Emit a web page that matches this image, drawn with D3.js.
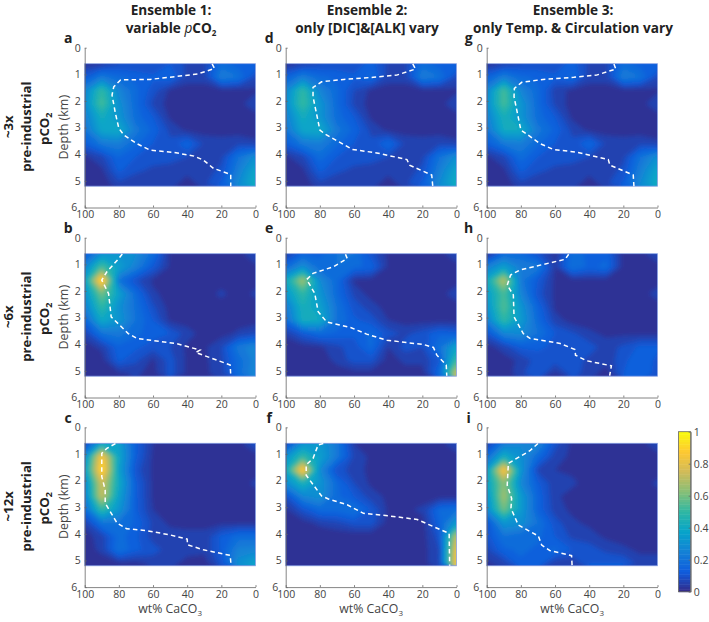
<!DOCTYPE html>
<html>
<head>
<meta charset="utf-8">
<script src="https://cdnjs.cloudflare.com/ajax/libs/d3/7.8.5/d3.min.js"></script>
<style>
  body { margin: 0; background: #fff; }
  svg { display: block; }
  text { font-family: "Open Sans", sans-serif; }
  .tick text { fill: #444; font-size: 10.5px; }
  .domain, .tick line { stroke: #666; stroke-width: 0.8; }
</style>
</head>
<body>
<svg id="chart" width="709" height="622"></svg>
<script>
// wt% columns and depth rows of the grids, values are in hundredths
const wtCols = [100, 90, 80, 70, 60, 50, 40, 30, 20, 10, 0]
const depthRows = [0.6, 1.1, 1.6, 2.1, 2.6, 3.1, 3.6, 4.1, 4.6, 5.1]
const wtTicks = [100, 80, 60, 40, 20, 0]
const depthTicks = [0, 1, 2, 3, 4, 5, 6]
const barTicks = [0, 0.2, 0.4, 0.6, 0.8, 1]

const gridA = [
  [3, 4, 8, 8, 8, 12, 7, 7, 18, 14, 16],
  [12, 22, 17, 15, 13, 16, 6, 6, 24, 20, 8],
  [26, 50, 26, 17, 10, 3, 2, 2, 2, 2, 3],
  [28, 54, 30, 17, 7, 2, 2, 2, 2, 2, 8],
  [24, 42, 32, 18, 12, 3, 2, 2, 2, 2, 2],
  [20, 38, 40, 22, 15, 7, 3, 2, 2, 2, 2],
  [13, 22, 24, 17, 12, 9, 16, 7, 6, 7, 5],
  [3, 7, 16, 12, 10, 9, 8, 7, 7, 20, 30],
  [2, 3, 13, 9, 7, 7, 6, 6, 9, 24, 38],
  [1, 1, 7, 5, 6, 7, 1, 7, 13, 28, 42]
]
const gridB = [
  [12, 30, 32, 28, 18, 3, 2, 2, 2, 2, 8],
  [26, 54, 36, 24, 12, 3, 2, 2, 2, 2, 3],
  [36, 96, 20, 9, 3, 2, 2, 2, 2, 2, 2],
  [30, 60, 36, 17, 5, 2, 2, 2, 5, 2, 5],
  [24, 50, 30, 19, 9, 2, 2, 2, 2, 2, 2],
  [15, 40, 32, 20, 12, 3, 2, 2, 2, 2, 2],
  [6, 20, 22, 17, 14, 12, 6, 2, 2, 5, 8],
  [2, 5, 15, 13, 10, 8, 3, 3, 8, 22, 27],
  [1, 2, 13, 9, 3, 10, 3, 3, 7, 18, 26],
  [1, 1, 3, 5, 2, 10, 3, 3, 6, 18, 28]
]
const gridC = [
  [7, 38, 36, 13, 4, 2, 2, 2, 2, 2, 10],
  [28, 88, 38, 13, 3, 2, 2, 2, 2, 2, 2],
  [34, 94, 36, 10, 3, 2, 2, 2, 2, 2, 2],
  [26, 76, 40, 13, 3, 2, 2, 2, 2, 2, 5],
  [24, 74, 36, 13, 3, 2, 2, 2, 2, 2, 2],
  [17, 50, 32, 13, 4, 2, 2, 2, 2, 2, 2],
  [5, 20, 20, 15, 7, 3, 3, 3, 3, 3, 3],
  [2, 6, 18, 13, 6, 6, 5, 5, 13, 18, 18],
  [2, 5, 20, 13, 10, 6, 5, 5, 13, 25, 26],
  [1, 2, 3, 3, 5, 5, 3, 2, 10, 30, 38]
]
const gridD = [
  [3, 5, 8, 9, 9, 14, 7, 7, 18, 14, 16],
  [14, 24, 17, 15, 13, 17, 6, 6, 24, 20, 8],
  [26, 50, 26, 17, 8, 3, 2, 2, 2, 2, 3],
  [28, 52, 32, 17, 7, 2, 2, 2, 2, 2, 8],
  [24, 42, 32, 18, 12, 3, 2, 2, 2, 2, 2],
  [20, 38, 40, 22, 15, 7, 3, 2, 2, 2, 2],
  [13, 22, 24, 17, 12, 9, 17, 7, 6, 7, 5],
  [3, 7, 18, 12, 10, 9, 8, 7, 7, 20, 30],
  [2, 3, 13, 9, 7, 7, 6, 6, 9, 24, 38],
  [1, 1, 7, 5, 6, 7, 1, 7, 13, 28, 42]
]
const gridE = [
  [5, 15, 15, 20, 20, 10, 3, 2, 2, 2, 8],
  [17, 30, 18, 20, 17, 15, 3, 2, 2, 2, 2],
  [40, 68, 28, 17, 3, 2, 2, 2, 2, 2, 2],
  [32, 50, 32, 17, 7, 2, 2, 2, 2, 2, 7],
  [22, 44, 36, 20, 10, 6, 2, 2, 2, 2, 2],
  [17, 42, 40, 20, 13, 10, 4, 2, 2, 2, 2],
  [5, 12, 17, 15, 13, 17, 10, 7, 10, 15, 13],
  [1, 2, 3, 7, 10, 17, 4, 10, 8, 20, 38],
  [1, 1, 2, 5, 10, 10, 2, 5, 5, 12, 52],
  [1, 1, 1, 2, 2, 2, 1, 2, 2, 17, 76]
]
const gridF = [
  [7, 30, 33, 22, 4, 2, 2, 2, 2, 2, 8],
  [30, 50, 36, 22, 7, 3, 2, 2, 2, 2, 2],
  [40, 92, 28, 9, 7, 2, 2, 2, 2, 2, 2],
  [28, 44, 32, 17, 8, 3, 2, 2, 2, 2, 2],
  [9, 26, 30, 17, 12, 6, 3, 2, 2, 2, 2],
  [3, 10, 17, 17, 20, 12, 3, 3, 5, 17, 20],
  [1, 2, 5, 7, 10, 10, 2, 2, 2, 15, 34],
  [1, 1, 1, 1, 1, 1, 1, 1, 2, 10, 74],
  [1, 1, 1, 1, 1, 1, 1, 1, 2, 8, 84],
  [1, 1, 1, 1, 1, 1, 1, 1, 2, 8, 88]
]
const gridG = [
  [3, 5, 8, 9, 9, 14, 7, 7, 18, 14, 16],
  [14, 24, 17, 15, 13, 17, 6, 6, 24, 20, 8],
  [26, 54, 26, 17, 6, 3, 2, 2, 2, 2, 3],
  [28, 54, 32, 17, 7, 2, 2, 2, 2, 2, 8],
  [24, 44, 32, 18, 12, 3, 2, 2, 2, 2, 2],
  [20, 40, 40, 22, 15, 7, 3, 2, 2, 2, 2],
  [13, 22, 24, 17, 12, 9, 17, 7, 6, 7, 5],
  [3, 7, 18, 12, 10, 9, 8, 7, 7, 20, 30],
  [2, 3, 13, 9, 7, 7, 6, 6, 9, 24, 38],
  [1, 1, 7, 5, 6, 7, 1, 7, 13, 28, 42]
]
const gridH = [
  [2, 17, 17, 10, 3, 18, 15, 15, 2, 2, 8],
  [24, 36, 24, 22, 4, 20, 15, 17, 2, 2, 2],
  [40, 72, 22, 12, 3, 2, 2, 2, 2, 2, 2],
  [34, 54, 26, 10, 3, 2, 2, 2, 2, 2, 6],
  [30, 56, 32, 15, 3, 2, 2, 2, 2, 2, 2],
  [24, 50, 34, 17, 6, 2, 2, 2, 2, 2, 2],
  [10, 26, 28, 20, 12, 9, 5, 3, 3, 3, 3],
  [2, 6, 13, 13, 11, 12, 10, 6, 9, 13, 13],
  [1, 2, 5, 10, 10, 10, 7, 5, 11, 15, 11],
  [1, 1, 7, 12, 3, 10, 6, 2, 12, 14, 11]
]
const gridI = [
  [5, 22, 27, 27, 10, 3, 2, 2, 2, 2, 8],
  [17, 42, 30, 17, 6, 3, 2, 2, 2, 2, 2],
  [34, 90, 32, 7, 4, 3, 2, 2, 2, 2, 2],
  [36, 64, 27, 13, 5, 5, 2, 2, 2, 2, 5],
  [30, 68, 34, 15, 5, 2, 2, 2, 2, 2, 2],
  [27, 60, 34, 15, 6, 3, 2, 2, 2, 2, 2],
  [10, 32, 30, 20, 10, 5, 3, 2, 2, 2, 2],
  [10, 20, 17, 17, 12, 7, 6, 3, 2, 2, 2],
  [7, 15, 17, 15, 17, 12, 10, 7, 5, 3, 3],
  [3, 6, 15, 15, 5, 4, 12, 12, 12, 6, 6]
]

// dashed lines, [wt%, depth km]
const lineA = [[25.4, .61], [24, .78], [34, .99], [61.7, 1.19], [79, 1.21], [83, 1.47], [84, 1.78], [82, 2.47], [80, 3.03], [77, 3.28], [69.5, 3.6], [61.7, 3.85], [48, 3.93], [36, 4.07], [30.5, 4.22], [24.6, 4.53], [14.5, 4.76], [14.5, 5.2]]
const lineB = [[78, .61], [80, .78], [87, 1.28], [90, 1.59], [86, 2.1], [84.5, 2.97], [74.5, 3.6], [69.5, 3.78], [58, 3.88], [46, 3.98], [32.5, 4.22], [35, 4.31], [14.8, 4.78], [14.5, 5.18]]
const lineC = [[82, .61], [87, .79], [90, .98], [90, 1.85], [88, 2.35], [88, 2.85], [81, 3.6], [75.4, 3.81], [63.7, 3.88], [50, 4.04], [40, 4.2], [39.8, 4.41], [30.5, 4.6], [14.8, 4.81], [14.3, 5.2]]
const lineD = [[25.6, .61], [24, .8], [35, 1.03], [48.6, 1.11], [66, 1.19], [79, 1.28], [84, 1.49], [84, 1.84], [80, 3.09], [77, 3.24], [69, 3.53], [61, 3.82], [46.7, 3.95], [29, 4.2], [27.5, 4.41], [14.5, 4.78], [13.9, 5.2]]
const lineE = [[65, .62], [64, .78], [72, 1.09], [84, 1.34], [87.7, 1.57], [83, 2.09], [81, 2.78], [76, 3.16], [62, 3.37], [52.6, 3.62], [40.8, 3.85], [19.3, 4.01], [13.5, 4.12], [11.5, 4.41], [6, 4.78], [5.7, 5.18]]
const lineF = [[78, .61], [81, .66], [84, 1.17], [88, 1.41], [88, 1.8], [79, 2.58], [75, 2.69], [64, 2.91], [54.5, 3.23], [39, 3.33], [23, 3.46], [13.5, 3.73], [4.3, 3.98], [4, 5.2]]
const lineG = [[25.5, .61], [24.4, .8], [35.7, 1.03], [49, 1.11], [67, 1.19], [79.5, 1.3], [83.8, 1.53], [84, 1.84], [80, 3.09], [76.6, 3.24], [68.8, 3.6], [61, 3.82], [47.4, 3.92], [28.8, 4.2], [27.9, 4.41], [14.2, 4.78], [13.8, 5.2]]
const lineH = [[52, .62], [54, .81], [66.7, 1], [80.5, 1.21], [86, 1.4], [88, 1.78], [84.4, 2.15], [84, 2.97], [78.6, 3.6], [74.7, 3.78], [57, 3.97], [48.3, 4.2], [48, 4.41], [41.5, 4.62], [27, 4.81], [28, 5.18]]
const lineI = [[70, .61], [74.7, .88], [87.3, 1.35], [88, 2.17], [85.4, 2.67], [85.8, 3.04], [81.5, 3.67], [69.8, 4.08], [67.8, 4.42], [63, 4.63], [50.3, 4.82], [50, 5.2]]

const letters = ['a', 'b', 'c', 'd', 'e', 'f', 'g', 'h', 'i']
const grids = [gridA, gridB, gridC, gridD, gridE, gridF, gridG, gridH, gridI]
const lines = [lineA, lineB, lineC, lineD, lineE, lineF, lineG, lineH, lineI]
const rowLabels = ['~3x', '~6x', '~12x']

// colours of the colourbar
const parulaStops = ['#352a87', '#0f5cdd', '#1481d6', '#06a4ca', '#2eb7a4', '#87bf77', '#d1bb59', '#fec832', '#f9fb0e']
const parula = d3.scaleLinear().domain(d3.range(9).map(d => d / 8)).range(parulaStops).clamp(true)

const colX = [84.7, 285.7, 486.7]   // left edge of plot, per column
const rowY = [47.7, 237.7, 427.3]   // depth 0, per row
const letterDx = [16.5, 16.5, 18]   // the g sits clear of the title above it
const plotW = 170.8, plotH = 159.8

const svg = d3.select('#chart')
const defs = svg.append('defs')
defs.append('filter').attr('id', 'soft')
  .attr('x', '-5%').attr('y', '-5%').attr('width', '110%').attr('height', '110%')
  .append('feGaussianBlur').attr('stdDeviation', 2)

const levels = d3.range(0, 1, 0.04)

function drawPanel(c, r) {
  const k = c * 3 + r
  const x = d3.scaleLinear().domain([100, 0]).range([colX[c], colX[c] + plotW])
  const y = d3.scaleLinear().domain([0, 6]).range([rowY[r], rowY[r] + plotH])
  const g = svg.append('g')

  // grid index to data units
  const nx = wtCols.length, ny = depthRows.length
  const gx = d3.scaleLinear().domain([0.5, nx - 0.5]).range([wtCols[0], wtCols[nx - 1]])
  const gy = d3.scaleLinear().domain([0.5, ny - 0.5]).range([depthRows[0], depthRows[ny - 1]])
  const path = d3.geoPath(d3.geoTransform({
    point: function(px, py) { this.stream.point(x(gx(px)), y(gy(py))) }
  }))

  const top = y(0.6), bottom = y(5.2)
  defs.append('clipPath').attr('id', 'clip-' + k).append('rect')
    .attr('x', x(100)).attr('y', top).attr('width', plotW).attr('height', bottom - top)

  const values = grids[k].flat().map(v => v / 100)
  const contours = d3.contours().size([nx, ny]).thresholds(levels)(values)

  const heat = g.append('g').attr('clip-path', 'url(#clip-' + k + ')')
  heat.append('rect').attr('x', x(100)).attr('y', top).attr('width', plotW).attr('height', bottom - top)
    .attr('fill', parula(0))
  heat.append('g').attr('filter', 'url(#soft)')
    .selectAll('path').data(contours).enter().append('path')
    .attr('d', path)
    .attr('fill', d => parula(d.value + 0.02))

  // pale edge around the image
  g.append('rect').attr('x', x(100)).attr('y', top).attr('width', plotW).attr('height', bottom - top)
    .attr('fill', 'none').attr('stroke', '#8fa8e8').attr('stroke-width', 0.8)

  g.append('path').datum(lines[k])
    .attr('fill', 'none').attr('stroke', '#fff').attr('stroke-width', 1.5)
    .attr('stroke-dasharray', '4.5,3.2')
    .attr('d', d3.line().x(d => x(d[0])).y(d => y(d[1])))

  const left = g.append('g').attr('transform', 'translate(' + x(100) + ',0)')
    .call(d3.axisLeft(y).tickValues(depthTicks).tickFormat(d3.format('d')).tickSize(-2).tickSizeOuter(0).tickPadding(4))
  // keep the 6 clear of the 100 below it
  left.selectAll('.tick text').filter(d => d === 6).attr('dx', -3.5)
  g.append('g').attr('transform', 'translate(0,' + y(6) + ')')
    .call(d3.axisBottom(x).tickValues(wtTicks).tickSize(-2).tickSizeOuter(0).tickPadding(3))

  g.append('text').attr('x', colX[c] - letterDx[c]).attr('y', rowY[r] - 4.5)
    .attr('text-anchor', 'middle').attr('font-size', 14).attr('font-weight', 700).attr('fill', '#222')
    .text(letters[k])

  if (c === 0) {
    g.append('text')
      .attr('transform', 'translate(68,' + (rowY[r] + 79.5) + ') rotate(-90)')
      .attr('text-anchor', 'middle').attr('font-size', 12.5).attr('fill', '#444')
      .text('Depth (km)')
  }
  if (r === 2) {
    const t = g.append('text').attr('x', colX[c] + plotW / 2).attr('y', 613)
      .attr('text-anchor', 'middle').attr('font-size', 12.3).attr('fill', '#444')
    t.append('tspan').text('wt% CaCO')
    t.append('tspan').attr('dy', 3).attr('font-size', 8).text('3')
  }
}

for (let c = 0; c < 3; c++) {
  for (let r = 0; r < 3; r++) drawPanel(c, r)
}

// column titles
function title(cx, y1, y2, first, second) {
  const g = svg.append('g').attr('text-anchor', 'middle').attr('font-size', 13.6)
    .attr('font-weight', 700).attr('fill', '#222')
  g.append('text').attr('x', cx).attr('y', y1).text(first)
  const t = g.append('text').attr('x', cx).attr('y', y2)
  second(t)
}
title(171, 14.6, 33.2, 'Ensemble 1:', t => {
  t.append('tspan').text('variable ')
  t.append('tspan').attr('font-style', 'italic').attr('font-weight', 400).text('p')
  t.append('tspan').text('CO')
  t.append('tspan').attr('dy', 3).attr('font-size', 8).text('2')
})
title(367, 14.6, 33.2, 'Ensemble 2:', t => t.text('only [DIC]&[ALK] vary'))
title(573, 14.6, 33.2, 'Ensemble 3:', t => t.text('only Temp. & Circulation vary'))

// row titles
rowLabels.forEach((label, r) => {
  const cy = rowY[r] + 79
  const g = svg.append('g').attr('text-anchor', 'middle').attr('font-size', 13.2)
    .attr('font-weight', 700).attr('fill', '#222')
  g.append('text').attr('transform', 'translate(13,' + cy + ') rotate(-90)').text(label)
  g.append('text').attr('transform', 'translate(31,' + cy + ') rotate(-90)').text('pre-industrial')
  const t = g.append('text').attr('transform', 'translate(49,' + (cy + 2) + ') rotate(-90)')
  t.append('tspan').text('pCO')
  t.append('tspan').attr('dy', 3).attr('font-size', 9).text('2')
})

// colourbar
const barX = 678.5, barW = 12.2
const barY = d3.scaleLinear().domain([0, 1]).range([591.7, 431.7])
const steps = d3.range(0, 1, 1 / 64)
svg.append('g').selectAll('rect').data(steps).enter().append('rect')
  .attr('x', barX).attr('width', barW)
  .attr('y', d => barY(d + 1 / 64))
  .attr('height', barY(0) - barY(1 / 64) + 0.5)
  .attr('fill', d => parula(d + 1 / 128))
svg.append('rect').attr('x', barX).attr('y', barY(1)).attr('width', barW).attr('height', barY(0) - barY(1))
  .attr('fill', 'none').attr('stroke', '#666').attr('stroke-width', 0.8)
svg.append('g').attr('transform', 'translate(' + (barX + barW) + ',0)')
  .call(d3.axisRight(barY).tickValues(barTicks).tickFormat(d3.format('~g')).tickSize(-2).tickSizeOuter(0).tickPadding(3))
</script>
</body>
</html>
